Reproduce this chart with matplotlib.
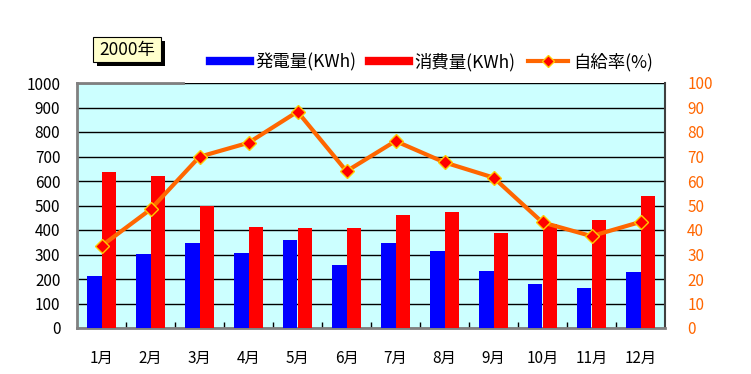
import matplotlib.pyplot as plt
import numpy as np
from matplotlib.patches import Rectangle
from matplotlib.lines import Line2D

plt.rcParams['font.family'] = ['Noto Sans CJK JP', 'DejaVu Sans']

months = ['1月', '2月', '3月', '4月', '5月', '6月', '7月', '8月', '9月', '10月', '11月', '12月']
hatsuden = [212, 301, 347, 306, 359, 257, 347, 314, 233, 180, 163, 229]
shohi = [637, 620, 499, 412, 408, 408, 461, 473, 388, 424, 441, 539]
jikyu = [33.5, 48.4, 69.9, 75.6, 88.3, 64.0, 76.3, 67.6, 61.4, 43.1, 37.5, 43.3]

orange = '#FF6600'
W, H = 751, 374

fig = plt.figure(figsize=(W / 100, H / 100), dpi=100)
ax = fig.add_axes([77 / W, 1 - 328 / H, 588 / W, 245 / H])
ax.set_facecolor('#CCFFFF')

x = np.arange(len(months))
bw = 0.29
ax.bar(x - bw / 2, hatsuden, bw, color='#0000FF', zorder=3)
ax.bar(x + bw / 2, shohi, bw, color='#FF0000', zorder=3)
ax.set_xlim(-0.5, 11.5)
ax.set_ylim(0, 1000)
ax.set_yticks(np.arange(0, 1001, 100))
ax.grid(axis='y', color='black', lw=1, zorder=1)
ax.tick_params(axis='y', length=0, labelsize=11, pad=12)
ax.set_xticks(x)
ax.set_xticklabels(months)
ax.tick_params(axis='x', length=0, labelsize=11, pad=16)
ax.set_xticks(np.arange(0.5, 11, 1), minor=True)
ax.tick_params(axis='x', which='minor', direction='in', length=4, width=1, color='black')
for s in ['left', 'bottom']:
    ax.spines[s].set_color('#808080')
    ax.spines[s].set_linewidth(2)
ax.spines['top'].set_visible(False)
ax.spines['right'].set_color('#404040')
ax.spines['right'].set_linewidth(1.5)
ax.plot([0, 0.18], [1, 1], transform=ax.transAxes, color='#808080', lw=2, clip_on=False, zorder=5)

ax2 = ax.twinx()
ax2.plot(x, jikyu, color=orange, lw=3, marker='D', ms=7, mfc='#FF0000', mec='#FFCC00', mew=1, zorder=4)
ax2.set_ylim(0, 100)
ax2.set_yticks(np.arange(0, 101, 10))
ax2.tick_params(axis='y', length=0, labelsize=11, labelcolor=orange, pad=16)
for s in ax2.spines.values():
    s.set_visible(False)

# title box with shadow
fig.patches.append(Rectangle((97 / W, 1 - 66 / H), 68 / W, 25 / H, transform=fig.transFigure,
                             facecolor='black', edgecolor='none'))
fig.patches.append(Rectangle((93 / W, 1 - 62 / H), 68 / W, 25 / H, transform=fig.transFigure,
                             facecolor='#FFFFCC', edgecolor='black', lw=0.8))
fig.text(127 / W, 1 - 49.5 / H, '2000年', ha='center', va='center', fontsize=12.5)

handles = [
    Line2D([], [], color='#0000FF', lw=6),
    Line2D([], [], color='#FF0000', lw=6),
    Line2D([], [], color=orange, lw=3, marker='D', ms=6, mfc='#FF0000', mec='#FFCC00'),
]
fig.legend(handles, ['発電量(KWh)', '消費量(KWh)', '自給率(%)'], loc='center left',
           bbox_to_anchor=(198 / W, 1 - 62 / H), ncol=3, frameon=False, fontsize=12.5,
           handlelength=2.3, handletextpad=0.3, columnspacing=0.75, borderpad=0.2)

fig.savefig('out.png', dpi=100)
